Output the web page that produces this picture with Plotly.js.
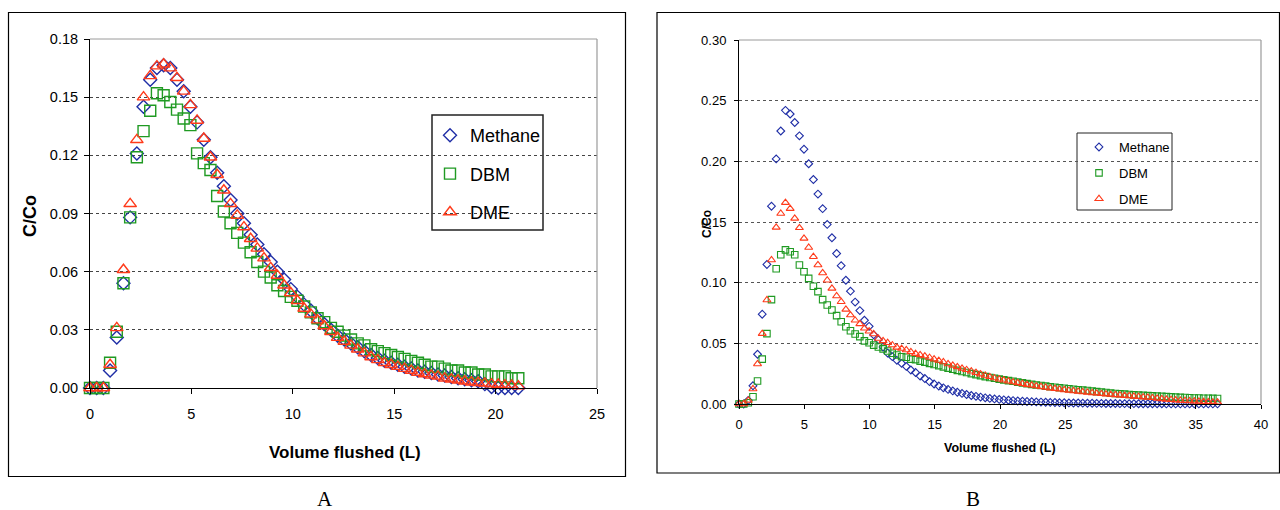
<!DOCTYPE html>
<html>
<head>
<meta charset="utf-8">
<script src="https://cdn.plot.ly/plotly-3.0.1.min.js"></script>
<style>html,body{margin:0;padding:0;background:#fff;}#chart{width:1280px;height:510px;}</style>
</head>
<body>
<div id="chart"></div>
<script>
// ---------- Panel A data ----------
const xA = [0, 0.33, 0.66, 0.99, 1.32, 1.65, 1.98, 2.31, 2.64, 2.97, 3.30, 3.63, 3.96, 4.29, 4.62, 4.95, 5.28, 5.61, 5.94, 6.27, 6.60, 6.93, 7.26, 7.59, 7.92, 8.25, 8.58, 8.91, 9.24, 9.57, 9.90, 10.23, 10.56, 10.89, 11.22, 11.55, 11.88, 12.21, 12.54, 12.87, 13.20, 13.53, 13.86, 14.19, 14.52, 14.85, 15.18, 15.51, 15.84, 16.17, 16.50, 16.83, 17.16, 17.49, 17.82, 18.15, 18.48, 18.81, 19.14, 19.47, 19.80, 20.13, 20.46, 20.79, 21.12];
const methaneA = [0, 0, 0, 0.009, 0.026, 0.054, 0.088, 0.121, 0.145, 0.159,
  0.165, 0.1665, 0.165, 0.159, 0.153, 0.145, 0.137, 0.128, 0.119, 0.111,
  0.104, 0.097, 0.090, 0.085, 0.079, 0.074, 0.069, 0.065, 0.060, 0.056,
  0.051, 0.047, 0.043, 0.040, 0.036, 0.033, 0.030, 0.027, 0.025, 0.023,
  0.021, 0.019, 0.017, 0.0155, 0.014, 0.013, 0.012, 0.011, 0.010, 0.009,
  0.0084, 0.0077, 0.007, 0.0064, 0.0057, 0.005, 0.0045, 0.004, 0.0035, 0.002,
  0.0005, 0, 0, 0, 0];
const dbmA = [0, 0, 0, 0.013, 0.029, 0.054, 0.088, 0.119, 0.1325, 0.143,
  0.152, 0.151, 0.1475, 0.1436, 0.139, 0.1356, 0.121, 0.116, 0.1124, 0.099,
  0.091, 0.085, 0.080, 0.075, 0.070, 0.065, 0.060, 0.057, 0.053, 0.050,
  0.047, 0.045, 0.042, 0.039, 0.036, 0.034, 0.031, 0.029, 0.027, 0.025,
  0.023, 0.022, 0.020, 0.019, 0.018, 0.017, 0.016, 0.015, 0.014, 0.013,
  0.012, 0.011, 0.011, 0.010, 0.009, 0.009, 0.008, 0.008, 0.007, 0.007,
  0.006, 0.006, 0.006, 0.005, 0.005];
const dmeA = [0, 0, 0, 0.012, 0.031, 0.061, 0.095, 0.128, 0.150, 0.161,
  0.166, 0.167, 0.165, 0.160, 0.153, 0.146, 0.138, 0.1287, 0.119, 0.110,
  0.102, 0.095, 0.089, 0.083, 0.077, 0.072, 0.067, 0.062, 0.058, 0.053,
  0.049, 0.045, 0.041, 0.038, 0.035, 0.032, 0.029, 0.026, 0.024, 0.022,
  0.020, 0.018, 0.016, 0.0145, 0.013, 0.012, 0.011, 0.010, 0.009, 0.008,
  0.0072, 0.0065, 0.006, 0.005, 0.0045, 0.004, 0.0035, 0.003, 0.0027, 0.0024,
  0.002, 0.0018, 0.0015, 0.0013, 0.001];

// ---------- Panel B data ----------
const xB = [0, 0.36, 0.71, 1.07, 1.42, 1.78, 2.14, 2.49, 2.85, 3.20,
  3.56, 3.92, 4.27, 4.63, 4.98, 5.34, 5.70, 6.05, 6.41, 6.76,
  7.12, 7.48, 7.83, 8.19, 8.54, 8.90, 9.26, 9.61, 9.97, 10.32,
  10.68, 11.04, 11.39, 11.75, 12.10, 12.46, 12.82, 13.17, 13.53, 13.88,
  14.24, 14.60, 14.95, 15.31, 15.66, 16.02, 16.38, 16.73, 17.09, 17.44,
  17.80, 18.16, 18.51, 18.87, 19.22, 19.58, 19.94, 20.29, 20.65, 21.00,
  21.36, 21.72, 22.07, 22.43, 22.78, 23.14, 23.50, 23.85, 24.21, 24.56,
  24.92, 25.28, 25.63, 25.99, 26.34, 26.70, 27.06, 27.41, 27.77, 28.12,
  28.48, 28.84, 29.19, 29.55, 29.90, 30.26, 30.62, 30.97, 31.33, 31.68,
  32.04, 32.40, 32.75, 33.11, 33.46, 33.82, 34.18, 34.53, 34.89, 35.24,
  35.60, 35.96, 36.31, 36.67];
const methaneB = [0, 0, 0.003, 0.015, 0.041, 0.074, 0.115, 0.163, 0.202, 0.225,
  0.242, 0.239, 0.232, 0.221, 0.210, 0.198, 0.185, 0.173, 0.161, 0.148,
  0.137, 0.124, 0.114, 0.102, 0.093, 0.084, 0.077, 0.069, 0.064, 0.057,
  0.053, 0.047, 0.042, 0.039, 0.036, 0.0335, 0.031, 0.028, 0.026, 0.023,
  0.021, 0.0184, 0.0165, 0.0148, 0.0133, 0.012, 0.0108, 0.0097, 0.0087, 0.0078,
  0.0070, 0.0063, 0.0057, 0.0051, 0.0046, 0.0042, 0.0038, 0.0034, 0.0031, 0.0028,
  0.0025, 0.0023, 0.0021, 0.0019, 0.0017, 0.0016, 0.0014, 0.0013, 0.0012, 0.0011,
  0.0010, 0.0009, 0.0008, 0.0008, 0.0007, 0.0006, 0.0006, 0.0005, 0.0005, 0.0004,
  0.0004, 0.0004, 0.0003, 0.0003, 0.0003, 0.0003, 0.0002, 0.0002, 0.0002, 0.0002,
  0.0002, 0.0002, 0.0001, 0.0001, 0.0001, 0.0001, 0.0001, 0.0001, 0.0001, 0.0001,
  0.0001, 0.0001, 0.0001, 0.0001];
const dbmB = [0, 0, 0.001, 0.006, 0.019, 0.037, 0.058, 0.086, 0.1115, 0.123,
  0.127, 0.1255, 0.123, 0.1146, 0.109, 0.1035, 0.097, 0.0926, 0.086, 0.0816,
  0.0775, 0.0728, 0.0678, 0.0637, 0.0604, 0.0577, 0.0555, 0.052, 0.0505, 0.0485,
  0.047, 0.0454, 0.0437, 0.0418, 0.0404, 0.039, 0.0385, 0.037, 0.0366, 0.0353,
  0.0345, 0.0335, 0.0326, 0.0316, 0.0306, 0.0296, 0.0287, 0.0277, 0.0268, 0.0259,
  0.0250, 0.0242, 0.0234, 0.0226, 0.0219, 0.0212, 0.0205, 0.0199, 0.0193, 0.0187,
  0.0180, 0.0174, 0.0168, 0.0162, 0.0157, 0.0152, 0.0147, 0.0142, 0.0138, 0.0134,
  0.0130, 0.0126, 0.0122, 0.0118, 0.0114, 0.0111, 0.0106, 0.0102, 0.0098, 0.0095,
  0.0090, 0.0087, 0.0084, 0.0081, 0.0078, 0.0075, 0.0073, 0.0071, 0.0069, 0.0067,
  0.0065, 0.0063, 0.0061, 0.0059, 0.0057, 0.0055, 0.0053, 0.0052, 0.0050, 0.0049,
  0.0048, 0.0047, 0.0046, 0.0045];
const dmeB = [0, 0, 0.003, 0.0124, 0.033, 0.058, 0.0857, 0.1187, 0.1456, 0.157,
  0.166, 0.161, 0.153, 0.1452, 0.1365, 0.129, 0.1214, 0.1146, 0.108, 0.102,
  0.0953, 0.089, 0.0843, 0.078, 0.0733, 0.069, 0.066, 0.0624, 0.060, 0.0577,
  0.054, 0.052, 0.0505, 0.0486, 0.0467, 0.0457, 0.0445, 0.043, 0.0415, 0.0405,
  0.0395, 0.0383, 0.037, 0.0358, 0.0346, 0.033, 0.0318, 0.0306, 0.0294, 0.0282,
  0.0270, 0.0258, 0.0246, 0.0235, 0.0224, 0.0214, 0.0204, 0.0196, 0.0188, 0.0181,
  0.0174, 0.0167, 0.0160, 0.0154, 0.0148, 0.0142, 0.0136, 0.0131, 0.0126, 0.0121,
  0.0116, 0.0111, 0.0107, 0.0103, 0.0099, 0.0095, 0.0091, 0.0088, 0.0084, 0.0081,
  0.0078, 0.0075, 0.0072, 0.0069, 0.0066, 0.0063, 0.0060, 0.0057, 0.0054, 0.0051,
  0.0046, 0.0042, 0.0038, 0.0035, 0.0032, 0.0029, 0.0027, 0.0025, 0.0023, 0.0021,
  0.0019, 0.0018, 0.0016, 0.0015];

const seriesNames = ['Methane', 'DBM', 'DME'];
const panelLabels = ['A', 'B'];
const xTitle = 'Volume flushed (L)';
const yTitle = 'C/Co';

// ---------- styling ----------
const W = 1280, H = 510;
const BLUE = '#1f2ea6', GREEN = '#1f9a22', RED = '#ff3a1a';
const SANS = 'Liberation Sans, Arial, sans-serif';
const SERIF = 'Liberation Serif, Times New Roman, serif';
const px = v => v / W;
const py = v => 1 - v / H;

function tr(x, y, name, symbol, size, color, lw, xa, ya, leg, grp) {
  return {x: x, y: y, type: 'scatter', mode: 'markers', name: name,
    xaxis: xa, yaxis: ya, legend: leg, legendgroup: grp, cliponaxis: false,
    marker: {symbol: symbol, size: size, color: color, line: {width: lw, color: color}},
    hoverinfo: 'x+y+name'};
}

const data = [
  tr(xA, methaneA, seriesNames[0], 'diamond-open', 10, BLUE, 1.4, 'x', 'y', 'legend', 'a1'),
  tr(xA, dbmA, seriesNames[1], 'square-open', 11, GREEN, 1.4, 'x', 'y', 'legend', 'a2'),
  tr(xA, dmeA, seriesNames[2], 'triangle-up-open', 11, RED, 1.4, 'x', 'y', 'legend', 'a3'),
  tr(xB, methaneB, seriesNames[0], 'diamond-open', 6, BLUE, 1.1, 'x2', 'y2', 'legend2', 'b1'),
  tr(xB, dbmB, seriesNames[1], 'square-open', 6.5, GREEN, 1.1, 'x2', 'y2', 'legend2', 'b2'),
  tr(xB, dmeB, seriesNames[2], 'triangle-up-open', 7, RED, 1.1, 'x2', 'y2', 'legend2', 'b3')
];

function axisBase(extra) {
  return Object.assign({
    showline: true, linecolor: '#000', linewidth: 1, zeroline: false,
    ticks: 'outside', tickcolor: '#000', tickwidth: 1, fixedrange: true
  }, extra);
}

const layout = {
  width: W, height: H,
  margin: {l: 0, r: 0, t: 0, b: 0, pad: 0},
  paper_bgcolor: '#fff', plot_bgcolor: 'rgba(0,0,0,0)',
  showlegend: true,
  xaxis: axisBase({domain: [px(90), px(597)], range: [0, 25], tick0: 0, dtick: 5,
    anchor: 'y', showgrid: false, ticklen: 5, ticklabelstandoff: 8,
    tickfont: {family: SANS, size: 14.5, color: '#000'}}),
  yaxis: axisBase({domain: [py(388), py(39)], range: [0, 0.18], tick0: 0, dtick: 0.03,
    tickformat: '.2f', anchor: 'x', showgrid: true, gridcolor: '#444', griddash: 'dot',
    gridwidth: 1, ticklen: 5, ticklabelstandoff: 3,
    tickfont: {family: SANS, size: 14.5, color: '#000'}}),
  xaxis2: axisBase({domain: [px(739), px(1261)], range: [0, 40], tick0: 0, dtick: 5,
    anchor: 'y2', showgrid: false, ticklen: 4, ticklabelstandoff: 4,
    tickfont: {family: SANS, size: 13, color: '#000'}}),
  yaxis2: axisBase({domain: [py(404), py(40)], range: [0, 0.30], tick0: 0, dtick: 0.05,
    tickformat: '.2f', anchor: 'x2', showgrid: true, gridcolor: '#555', griddash: 'dot',
    gridwidth: 1, ticklen: 4, ticklabelstandoff: 5,
    tickfont: {family: SANS, size: 13, color: '#000'}}),
  legend: {x: px(430), y: py(117), xanchor: 'left', yanchor: 'top',
    bgcolor: 'rgba(0,0,0,0)', borderwidth: 0, traceorder: 'grouped', tracegroupgap: 12,
    itemsizing: 'trace', font: {family: SANS, size: 18, color: '#000'}},
  legend2: {x: px(1079), y: py(132), xanchor: 'left', yanchor: 'top',
    bgcolor: 'rgba(0,0,0,0)', borderwidth: 0, traceorder: 'grouped', tracegroupgap: 6,
    itemsizing: 'trace', font: {family: SANS, size: 13, color: '#000'}},
  shapes: [
    // panel frames
    {type: 'rect', xref: 'paper', yref: 'paper', x0: px(8.5), x1: px(625.5), y0: py(476.5), y1: py(12.5),
      line: {color: '#000', width: 1.2}, layer: 'below'},
    {type: 'rect', xref: 'paper', yref: 'paper', x0: px(657), x1: px(1279.5), y0: py(473), y1: py(12.5),
      line: {color: '#000', width: 1.2}, layer: 'below'},
    // plot-area borders (top and right, grey)
    {type: 'line', xref: 'paper', yref: 'paper', x0: px(90), x1: px(597), y0: py(39), y1: py(39),
      line: {color: '#9a9a9a', width: 1}},
    {type: 'line', xref: 'paper', yref: 'paper', x0: px(597), x1: px(597), y0: py(39), y1: py(388),
      line: {color: '#9a9a9a', width: 1.2}},
    {type: 'line', xref: 'paper', yref: 'paper', x0: px(739), x1: px(1261), y0: py(40), y1: py(40),
      line: {color: '#9a9a9a', width: 1}},
    {type: 'line', xref: 'paper', yref: 'paper', x0: px(1261), x1: px(1261), y0: py(40), y1: py(404),
      line: {color: '#9a9a9a', width: 1.2}},
    // legend boxes
    {type: 'rect', xref: 'paper', yref: 'paper', x0: px(432), x1: px(543), y0: py(230), y1: py(115),
      line: {color: '#222', width: 1.5}, fillcolor: '#fff', layer: 'below'},
    {type: 'rect', xref: 'paper', yref: 'paper', x0: px(1077), x1: px(1172), y0: py(210), y1: py(133),
      line: {color: '#222', width: 1}, fillcolor: '#fff', layer: 'below'}
  ],
  annotations: [
    {xref: 'paper', yref: 'paper', x: px(345), y: py(452), xanchor: 'center', yanchor: 'middle',
      showarrow: false, text: '<b>' + xTitle + '</b>', font: {family: SANS, size: 17, color: '#000'}},
    {xref: 'paper', yref: 'paper', x: px(30), y: py(216), xanchor: 'center', yanchor: 'middle',
      showarrow: false, textangle: -90, text: '<b>' + yTitle + '</b>', font: {family: SANS, size: 18, color: '#000'}},
    {xref: 'paper', yref: 'paper', x: px(1000), y: py(448), xanchor: 'center', yanchor: 'middle',
      showarrow: false, text: '<b>' + xTitle + '</b>', font: {family: SANS, size: 12.5, color: '#000'}},
    {xref: 'paper', yref: 'paper', x: px(707), y: py(224), xanchor: 'center', yanchor: 'middle',
      showarrow: false, textangle: -90, text: '<b>' + yTitle + '</b>', font: {family: SANS, size: 12, color: '#000'}},
    {xref: 'paper', yref: 'paper', x: px(325), y: py(499), xanchor: 'center', yanchor: 'middle',
      showarrow: false, text: panelLabels[0], font: {family: SERIF, size: 21, color: '#000'}},
    {xref: 'paper', yref: 'paper', x: px(973), y: py(499), xanchor: 'center', yanchor: 'middle',
      showarrow: false, text: panelLabels[1], font: {family: SERIF, size: 21, color: '#000'}}
  ]
};

Plotly.newPlot('chart', data, layout, {displayModeBar: false, staticPlot: true});
</script>
</body>
</html>
